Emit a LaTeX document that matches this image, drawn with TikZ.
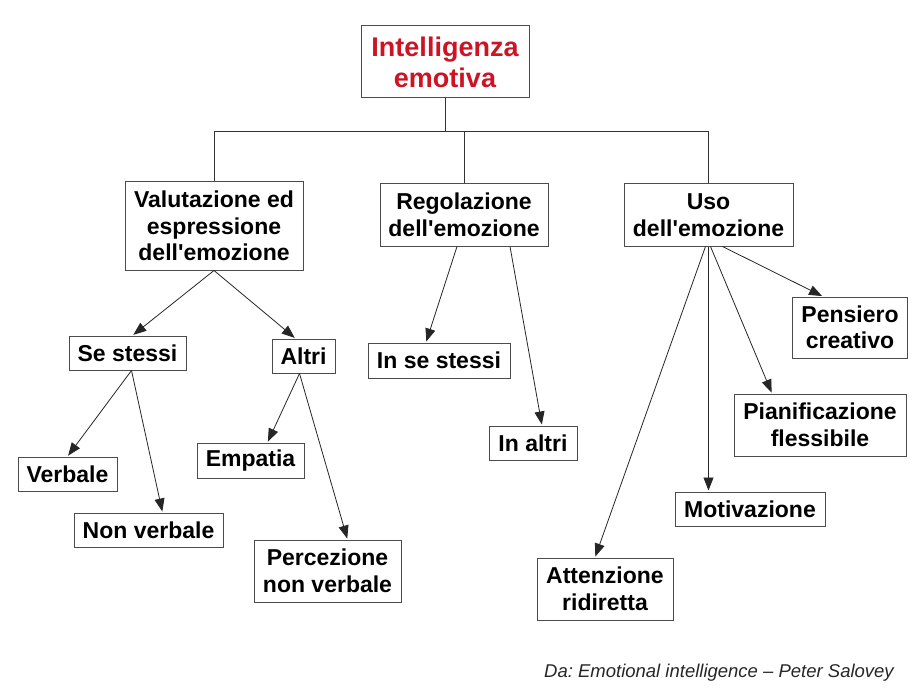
\documentclass[tikz,border=0pt]{standalone}
\usepackage{fontspec}
\setmainfont{Liberation Sans}
\usepackage{xcolor}
\usepackage{tikz}
\usetikzlibrary{arrows.meta, positioning, calc}

\definecolor{titlered}{RGB}{204,20,36}
\newcommand{\ap}{\textquotesingle}
\frenchspacing

\begin{document}
\begin{tikzpicture}[x=1pt, y=-1pt,
      box/.style={rectangle, draw=black!70, line width=1pt, fill=white, align=center,
        inner sep=0pt, font=\fontsize{23pt}{26.5pt}\selectfont\bfseries},
      root/.style={box, text=titlered, font=\fontsize{27pt}{31pt}\selectfont\bfseries},
      tree/.style={draw=black!80, line width=0.8pt},
      link/.style={-{Triangle[length=13pt, width=10pt]}, draw=black!85, line width=0.8pt, shorten >=1pt}
    ]
      \useasboundingbox (0,0) rectangle (919,690);
      % root and the three branches
      \node[root, minimum width=168pt, minimum height=72pt] (ie) at (445,62) {Intelligenza\\emotiva};
      \node[box, minimum width=178pt, minimum height=88pt] (val) at (214,226) {Valutazione ed\\espressione\\dell\ap emozione};
      \node[box, minimum width=168pt, minimum height=62pt] (reg) at (464,215) {Regolazione\\dell\ap emozione};
      \node[box, minimum width=169pt, minimum height=62pt] (uso) at (708.5,215) {Uso\\dell\ap emozione};
      \draw[tree] (ie.south) -- ++(0,33) coordinate (hub);
      \draw[tree] (val.north) |- (hub) -| (uso.north);
      \draw[tree] (reg.north) -- (reg.north |- hub);
      % valutazione
      \node[box, minimum width=117pt, minimum height=34pt] (ss) at (127.5,353) {Se stessi};
      \node[box, minimum width=63pt, minimum height=34pt] (al) at (303.5,356) {Altri};
      \node[box, minimum width=99pt, minimum height=34pt] (vb) at (67.5,474) {Verbale};
      \node[box, minimum width=149pt, minimum height=34pt] (nv) at (148.5,530) {Non verbale};
      \node[box, minimum width=107pt, minimum height=35pt] (em) at (250.5,460.5) {Empatia};
      \node[box, minimum width=147pt, minimum height=62pt] (pnv) at (327.5,571) {Percezione\\non verbale};
      \draw[link] (val.south) -- ([xshift=5pt]ss.north);
      \draw[link] (val.south) -- ([xshift=-8pt]al.north);
      \draw[link] ([xshift=4pt]ss.south) -- (vb.north);
      \draw[link] ([xshift=4pt]ss.south) -- ([xshift=14pt]nv.north);
      \draw[link] ([xshift=-4pt]al.south) -- ([xshift=17pt]em.north);
      \draw[link] ([xshift=-4pt]al.south) -- ([xshift=20pt]pnv.north);
      % regolazione
      \node[box, minimum width=142pt, minimum height=35pt] (iss) at (439,360.5) {In se stessi};
      \node[box, minimum width=88pt, minimum height=34pt] (ia) at (533,443) {In altri};
      \draw[link] ([xshift=-7pt]reg.south) -- ([xshift=-13pt]iss.north);
      \draw[link] ([xshift=46pt]reg.south) -- ([xshift=9pt]ia.north);
      % uso
      \node[box, minimum width=115pt, minimum height=61pt] (pc) at (850,327.5) {Pensiero\\creativo};
      \node[box, minimum width=172pt, minimum height=62pt] (pf) at (820,425) {Pianificazione\\flessibile};
      \node[box, minimum width=150pt, minimum height=34pt] (mot) at (750,509) {Motivazione};
      \node[box, minimum width=136pt, minimum height=62pt] (att) at (605,589) {Attenzione\\ridiretta};
      \draw[link] ([xshift=-3pt]uso.south) -- ([xshift=-10pt]att.north);
      \draw[link] (uso.south) -- (uso.south |- mot.north);
      \draw[link] ([xshift=2pt]uso.south) -- ([xshift=-48pt]pf.north);
      \draw[link] ([xshift=14pt]uso.south) -- ([xshift=-27pt]pc.north);
      % fonte
      \node[anchor=base east, inner sep=0pt, text=black!85,
        font=\fontsize{18.5pt}{22pt}\selectfont\itshape] (src) at (894,677)
        {Da: Emotional intelligence \textendash{} Peter Salovey};
    \end{tikzpicture}
\end{document}
